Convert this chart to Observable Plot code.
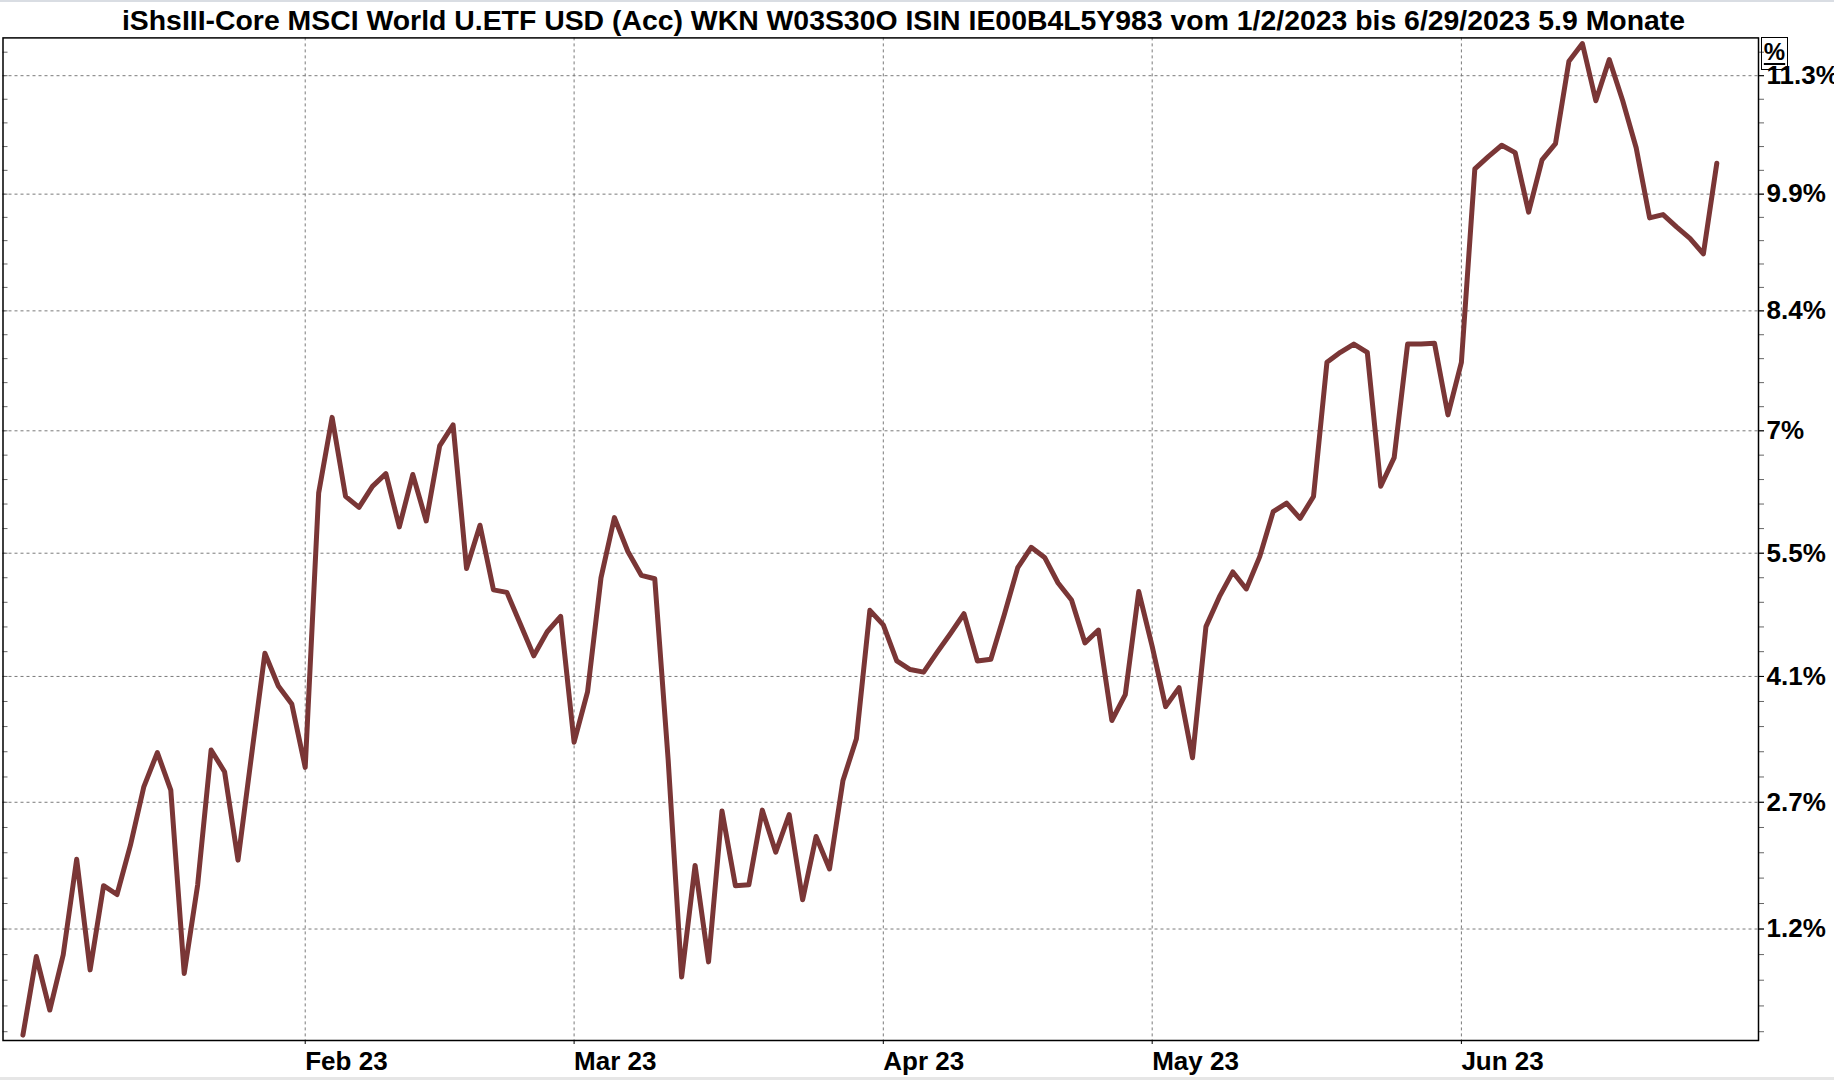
<!DOCTYPE html>
<html>
<head>
<meta charset="utf-8">
<script src="https://cdn.jsdelivr.net/npm/d3@7"></script>
<script src="https://cdn.jsdelivr.net/npm/@observablehq/plot@0.6"></script>
<style>
html, body { margin: 0; padding: 0; background: #fff; width: 1834px; height: 1080px; overflow: hidden; }
#title { position: absolute; left: 0; top: 2px; width: 1807px; text-align: center; font-family: "Liberation Sans", Arial, sans-serif; font-weight: bold; font-size: 28.4px; line-height: 36px; white-space: nowrap; color: #000; }
#chart { position: absolute; left: 0; top: 36px; }
#pct { position: absolute; left: 1761px; top: 37px; width: 25px; height: 31px; border: 1.5px solid #000; font-family: "Liberation Sans", Arial, sans-serif; font-weight: bold; font-size: 24px; line-height: 28px; text-align: center; text-decoration: underline; text-decoration-thickness: 2px; text-underline-offset: 3px; }
#topbar { position: absolute; left: 0; top: 0; width: 1834px; height: 2px; background: #d9dde3; }
#botbar { position: absolute; left: 0; top: 1077px; width: 1834px; height: 3px; background: #e6e6e6; }
</style>
</head>
<body>
<div id="topbar"></div>
<div id="title"></div>
<div id="chart"></div>
<div id="pct">%</div>
<div id="botbar"></div>
<script>
const titleText = "iShsIII-Core MSCI World U.ETF USD (Acc) WKN W03S30O ISIN IE00B4L5Y983 vom 1/2/2023 bis 6/29/2023 5.9 Monate";

// Performance in % since start, one value per weekday (weekday index 1 = Jan 3, 2023)
const firstWeekdayIndex = 1;
const perf = [
  0.02, 0.90, 0.30, 0.92, 2.00, 0.75, 1.70, 1.60, 2.16, 2.83,
  3.22, 2.79, 0.71, 1.71, 3.25, 3.00, 1.99, 3.18, 4.37, 3.99,
  3.78, 3.05, 6.25, 7.15, 6.21, 6.08, 6.33, 6.48, 5.85, 6.47,
  5.92, 6.81, 7.06, 5.36, 5.87, 5.11, 5.08, 4.71, 4.34, 4.62,
  4.80, 3.34, 3.92, 5.25, 5.96, 5.56, 5.28, 5.24, 3.13, 0.67,
  1.93, 0.84, 2.55, 1.70, 1.71, 2.56, 2.08, 2.51, 1.54, 2.26,
  1.89, 2.90, 3.38, 4.87, 4.70, 4.28, 4.18, 4.15, 4.38, 4.60,
  4.83, 4.28, 4.30, 4.82, 5.37, 5.61, 5.49, 5.19, 4.99, 4.49,
  4.64, 3.59, 3.89, 5.09, 4.45, 3.75, 3.97, 3.16, 4.68, 5.03,
  5.32, 5.12, 5.50, 6.03, 6.13, 5.95, 6.21, 7.81, 7.93, 8.03,
  7.93, 6.33, 6.67, 8.03, 8.03, 8.04, 7.18, 7.81, 10.16, 10.31,
  10.45, 10.36, 9.63, 10.27, 10.47, 11.49, 11.71, 11.00, 11.51, 11.00,
  10.42, 9.56, 9.60, 9.45, 9.31, 9.12, 10.23
];

// Month ticks (weekday index of the first trading weekday of each month)
const monthTicks = [22, 42, 65, 85, 108];
const monthLabels = ["Feb 23", "Mar 23", "Apr 23", "May 23", "Jun 23"];

// Percentage gridlines
const pctTicks = [1.21, 2.65, 4.10, 5.54, 6.99, 8.43, 9.85, 11.31];
const pctLabels = ["1.2%", "2.7%", "4.1%", "5.5%", "7%", "8.4%", "9.9%", "11.3%"];

const xDomain = [-0.48, 130.1];
const pctDomain = [-0.04, 11.78];

document.getElementById("title").textContent = titleText;

const base = 100;
const data = perf.map((v, i) => ({ idx: firstWeekdayIndex + i, level: base + v }));
const majorY = pctTicks.map(t => base + t);

// minor ticks: 5 subdivisions between major gridlines
const stepLo = pctTicks[1] - pctTicks[0];
const stepHi = pctTicks[pctTicks.length - 1] - pctTicks[pctTicks.length - 2];
const ext = [pctTicks[0] - stepLo, ...pctTicks, pctTicks[pctTicks.length - 1] + stepHi];
const minorY = [];
for (let k = 0; k < ext.length - 1; k++) {
  for (let j = 0; j < 5; j++) {
    const v = ext[k] + (ext[k + 1] - ext[k]) * j / 5;
    if (v >= pctDomain[0] && v <= pctDomain[1]) minorY.push(base + v);
  }
}

const yLabel = d => {
  const k = majorY.findIndex(t => Math.abs(t - d) < 1e-6);
  return k >= 0 ? pctLabels[k] : "";
};
const xLabel = d => {
  const k = monthTicks.indexOf(d);
  return k >= 0 ? monthLabels[k] : "";
};

const font = "Liberation Sans, Arial, sans-serif";

const chart = Plot.plot({
  width: 1834,
  height: 1044,
  marginTop: 1.4,
  marginBottom: 40,
  marginLeft: 2.5,
  marginRight: 76,
  style: { fontFamily: font, background: "transparent", overflow: "visible", color: "#000" },
  x: { type: "linear", domain: xDomain },
  y: { type: "log", domain: [base + pctDomain[0], base + pctDomain[1]] },
  marks: [
    Plot.gridY(majorY, { stroke: "#7a7a7a", strokeOpacity: 1, strokeWidth: 1, strokeDasharray: "3,3" }),
    Plot.gridX(monthTicks, { stroke: "#7a7a7a", strokeOpacity: 1, strokeWidth: 1, strokeDasharray: "3,3" }),
    Plot.axisY(minorY, { anchor: "right", tickSize: 5, tickFormat: () => "", label: null, stroke: "#666" }),
    Plot.axisY(minorY, { anchor: "left", tickSize: -5, tickFormat: () => "", label: null, stroke: "#666" }),
    Plot.axisY(majorY, { anchor: "right", tickSize: 5, tickPadding: 3, tickFormat: yLabel, label: null,
      fontSize: 26, fontWeight: "bold", fontFamily: font, fill: "#000", stroke: "#000" }),
    Plot.axisX(monthTicks, { anchor: "bottom", tickSize: 4, tickPadding: 7, tickFormat: xLabel, label: null,
      textAnchor: "start", fontSize: 26, fontWeight: "bold", fontFamily: font, fill: "#000", stroke: "#000" }),
    Plot.frame({ stroke: "#000", strokeWidth: 1.5 }),
    Plot.line(data, { x: "idx", y: "level", stroke: "#7a3636", strokeWidth: 5, strokeLinejoin: "round", strokeLinecap: "round" })
  ]
});
document.getElementById("chart").appendChild(chart);
</script>
</body>
</html>
